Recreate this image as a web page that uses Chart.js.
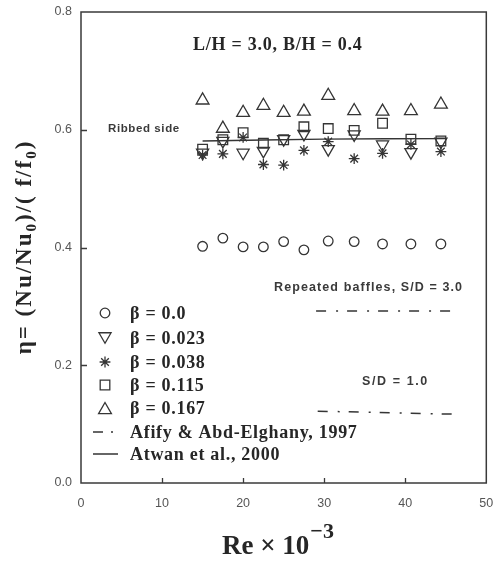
<!DOCTYPE html>
<html>
<head>
<meta charset="utf-8">
<script src="https://cdn.jsdelivr.net/npm/chart.js@4"></script>
<style>
  html, body { margin: 0; padding: 0; background: #fff; }
  #wrap { width: 495px; height: 562px; }
</style>
</head>
<body>
<div id="wrap"><canvas id="c" width="495" height="562"></canvas></div>
<script>
// Reynolds number (x 10^-3) of the measurement stations
const reynolds = [15.0, 17.5, 20.0, 22.5, 25.0, 27.5, 30.5, 33.7, 37.2, 40.7, 44.4];

// thermal performance factor for each blockage ratio
const etaBeta0000 = [0.402, 0.416, 0.401, 0.401, 0.410, 0.396, 0.411, 0.410, 0.406, 0.406, 0.406];
const etaBeta0023 = [0.561, 0.581, 0.561, 0.564, 0.584, 0.593, 0.567, 0.592, 0.575, 0.562, 0.580];
const etaBeta0038 = [0.557, 0.559, 0.587, 0.541, 0.540, 0.565, 0.580, 0.551, 0.560, 0.575, 0.563];
const etaBeta0115 = [0.567, 0.583, 0.595, 0.577, 0.583, 0.605, 0.602, 0.599, 0.611, 0.584, 0.581];
const etaBeta0167 = [0.650, 0.602, 0.629, 0.641, 0.629, 0.631, 0.658, 0.632, 0.631, 0.632, 0.643];

// Atwan et al., 2000 (ribbed side)
const atwanRe  = [15.0, 30.0, 45.0];
const atwanEta = [0.581, 0.584, 0.585];

// Afify & Abd-Elghany, 1997 (repeated baffles)
const afifySD3Re  = [29.0, 45.8];
const afifySD3Eta = [0.292, 0.292];
const afifySD1Re  = [29.2, 45.8];
const afifySD1Eta = [0.122, 0.117];

// axis ticks
const xTickValues = [0, 10, 20, 30, 40, 50];
const yTickValues = [0.0, 0.2, 0.4, 0.6, 0.8];

// legend entries
const legendLabels = ['\u03b2 = 0.0', '\u03b2 = 0.023', '\u03b2 = 0.038', '\u03b2 = 0.115', '\u03b2 = 0.167',
                      'Afify & Abd-Elghany, 1997', 'Atwan et al., 2000'];

const INK = '#353535';
const SERIF = '"Liberation Serif", "Times New Roman", serif';
const SANS = '"Liberation Sans", Arial, sans-serif';

const pts = (xs, ys) => xs.map((x, i) => ({ x: x, y: ys[i] }));

const markerStyles = [
  { pointStyle: 'circle',   pointRadius: 4.8, rotation: 0 },
  { pointStyle: 'triangle', pointRadius: 7,   rotation: 180 },
  { pointStyle: 'star',     pointRadius: 5.4, rotation: 0 },
  { pointStyle: 'rect',     pointRadius: 6.8, rotation: 0 },
  { pointStyle: 'triangle', pointRadius: 7.4, rotation: 0 }
];
const markerSeries = [etaBeta0000, etaBeta0023, etaBeta0038, etaBeta0115, etaBeta0167];

const datasets = markerSeries.map((ys, i) => ({
  label: legendLabels[i],
  data: pts(reynolds, ys),
  showLine: false,
  pointStyle: markerStyles[i].pointStyle,
  pointRadius: markerStyles[i].pointRadius,
  pointRotation: markerStyles[i].rotation,
  pointBorderWidth: 1.3,
  pointBorderColor: INK,
  pointBackgroundColor: 'rgba(0,0,0,0)',
  pointHoverRadius: markerStyles[i].pointRadius
}));

const DASH_DOT = [10, 10, 2, 9];
datasets.push({
  label: legendLabels[6], data: pts(atwanRe, atwanEta), showLine: true,
  borderColor: INK, borderWidth: 1.4, pointRadius: 0, tension: 0.3
});
datasets.push({
  label: legendLabels[5], data: pts(afifySD3Re, afifySD3Eta), showLine: true,
  borderColor: INK, borderWidth: 1.5, borderDash: DASH_DOT, pointRadius: 0
});
datasets.push({
  label: legendLabels[5] + ' S/D 1.0', data: pts(afifySD1Re, afifySD1Eta), showLine: true,
  borderColor: INK, borderWidth: 1.5, borderDash: DASH_DOT, pointRadius: 0
});

// marker painter for the legend, same shapes as the plotted points
function paintMarker(ctx, style, r, rot, x, y) {
  if (window.Chart && Chart.helpers && Chart.helpers.drawPoint) {
    Chart.helpers.drawPoint(ctx, { pointStyle: style, radius: r, rotation: rot, borderWidth: 1.3 }, x, y);
    return;
  }
  ctx.beginPath();
  ctx.arc(x, y, r, 0, Math.PI * 2);
  ctx.stroke();
}

// frame with inward tick marks
const framePlugin = {
  id: 'frame',
  afterDatasetsDraw(chart) {
    const ctx = chart.ctx;
    const a = chart.chartArea;
    const xs = chart.scales.x, ys = chart.scales.y;
    ctx.save();
    ctx.strokeStyle = '#3a3a3a';
    ctx.lineWidth = 1.5;
    ctx.strokeRect(a.left, a.top, a.right - a.left, a.bottom - a.top);
    ctx.lineWidth = 1.3;
    ctx.beginPath();
    xTickValues.slice(1, -1).forEach(v => {
      const px = Math.round(xs.getPixelForValue(v)) + 0.5;
      ctx.moveTo(px, a.bottom);
      ctx.lineTo(px, a.bottom - 5);
    });
    yTickValues.slice(1, -1).forEach(v => {
      const py = Math.round(ys.getPixelForValue(v)) + 0.5;
      ctx.moveTo(a.left, py);
      ctx.lineTo(a.left + 6, py);
    });
    ctx.stroke();
    ctx.restore();
  }
};

// titles, notes and legend
const textPlugin = {
  id: 'texts',
  afterDraw(chart) {
    const ctx = chart.ctx;
    ctx.save();
    ctx.fillStyle = '#262626';

    // heading inside the plot
    ctx.font = 'bold 18px ' + SERIF;
    ctx.letterSpacing = '0.75px';
    ctx.textBaseline = 'middle';
    ctx.textAlign = 'left';
    ctx.fillText('L/H = 3.0, B/H = 0.4', 193, 45);

    // notes
    ctx.fillStyle = '#3a3a3a';
    ctx.font = 'bold 11.5px ' + SANS;
    ctx.letterSpacing = '0.6px';
    ctx.fillText('Ribbed side', 108, 129);
    ctx.font = 'bold 12.5px ' + SANS;
    ctx.letterSpacing = '1.1px';
    ctx.fillText('Repeated baffles, S/D = 3.0', 274, 288);
    ctx.letterSpacing = '1.6px';
    ctx.fillText('S/D = 1.0', 362, 382);
    ctx.letterSpacing = '0px';

    // legend
    const rowY = [313, 338, 362, 385, 408, 432, 454];
    ctx.strokeStyle = INK;
    ctx.fillStyle = 'rgba(0,0,0,0)';
    ctx.lineWidth = 1.3;
    markerStyles.forEach((m, i) => {
      const r = m.pointRadius;
      const dy = m.pointStyle === 'triangle' ? (m.rotation ? -r / 4 : r / 4) : 0;
      paintMarker(ctx, m.pointStyle, r, m.rotation, 105, rowY[i] + dy);
    });
    ctx.lineWidth = 1.5;
    ctx.beginPath();
    ctx.moveTo(93, rowY[5]); ctx.lineTo(103, rowY[5]);
    ctx.moveTo(111, rowY[5]); ctx.lineTo(113, rowY[5]);
    ctx.moveTo(93, rowY[6]); ctx.lineTo(118, rowY[6]);
    ctx.stroke();

    ctx.fillStyle = '#262626';
    ctx.font = 'bold 18px ' + SERIF;
    ctx.letterSpacing = '0.7px';
    ctx.textBaseline = 'middle';
    legendLabels.forEach((t, i) => ctx.fillText(t, 130, rowY[i] + 1));
    ctx.letterSpacing = '0px';

    // x-axis title: Re x 10^-3
    ctx.textBaseline = 'alphabetic';
    ctx.font = 'bold 27px ' + SERIF;
    const base = 'Re \u00d7 10';
    ctx.fillText(base, 222, 554);
    const bw = ctx.measureText(base).width;
    ctx.font = 'bold 22px ' + SERIF;
    ctx.fillText('\u22123', 222 + bw + 1, 538);

    // y-axis title with subscripts, rotated
    const parts = [
      ['\u03b7= (Nu/Nu', false], ['0', true], [')/( f/f', false], ['0', true], [')', false]
    ];
    const big = 'bold 23px ' + SERIF, small = 'bold 15px ' + SERIF;
    ctx.letterSpacing = '2px';
    let total = 0;
    parts.forEach(p => { ctx.font = p[1] ? small : big; total += ctx.measureText(p[0]).width; });
    ctx.translate(31, 247);
    ctx.rotate(-Math.PI / 2);
    let cx = -total / 2;
    parts.forEach(p => {
      ctx.font = p[1] ? small : big;
      ctx.fillText(p[0], cx, p[1] ? 5 : 0);
      cx += ctx.measureText(p[0]).width;
    });
    ctx.restore();
  }
};

// keep the plot box fixed: no extra room reserved for overflowing tick labels
function noLabelPadding(s) {
  s.paddingLeft = 0; s.paddingRight = 0; s.paddingTop = 0; s.paddingBottom = 0;
}

new Chart(document.getElementById('c'), {
  type: 'scatter',
  data: { datasets: datasets },
  options: {
    responsive: false,
    animation: false,
    devicePixelRatio: 1,
    layout: { padding: { top: 12, right: 7, left: 0, bottom: 0 } },
    plugins: { legend: { display: false }, tooltip: { enabled: false } },
    scales: {
      x: {
        type: 'linear', min: 0, max: 50,
        afterBuildTicks: s => { s.ticks = xTickValues.map(v => ({ value: v })); },
        afterFit: s => { s.height = 79; noLabelPadding(s); },
        grid: { display: false, drawTicks: false },
        border: { display: false },
        ticks: { color: '#555', padding: 13, font: { family: SANS, size: 12.5 }, maxRotation: 0 }
      },
      y: {
        type: 'linear', min: 0, max: 0.8,
        afterBuildTicks: s => { s.ticks = yTickValues.map(v => ({ value: v })); },
        afterFit: s => { s.width = 81; noLabelPadding(s); },
        grid: { display: false, drawTicks: false },
        border: { display: false },
        ticks: { color: '#555', padding: 9, font: { family: SANS, size: 12.5 },
                 callback: v => Number(v).toFixed(1) }
      }
    }
  },
  plugins: [framePlugin, textPlugin]
});
</script>
</body>
</html>
